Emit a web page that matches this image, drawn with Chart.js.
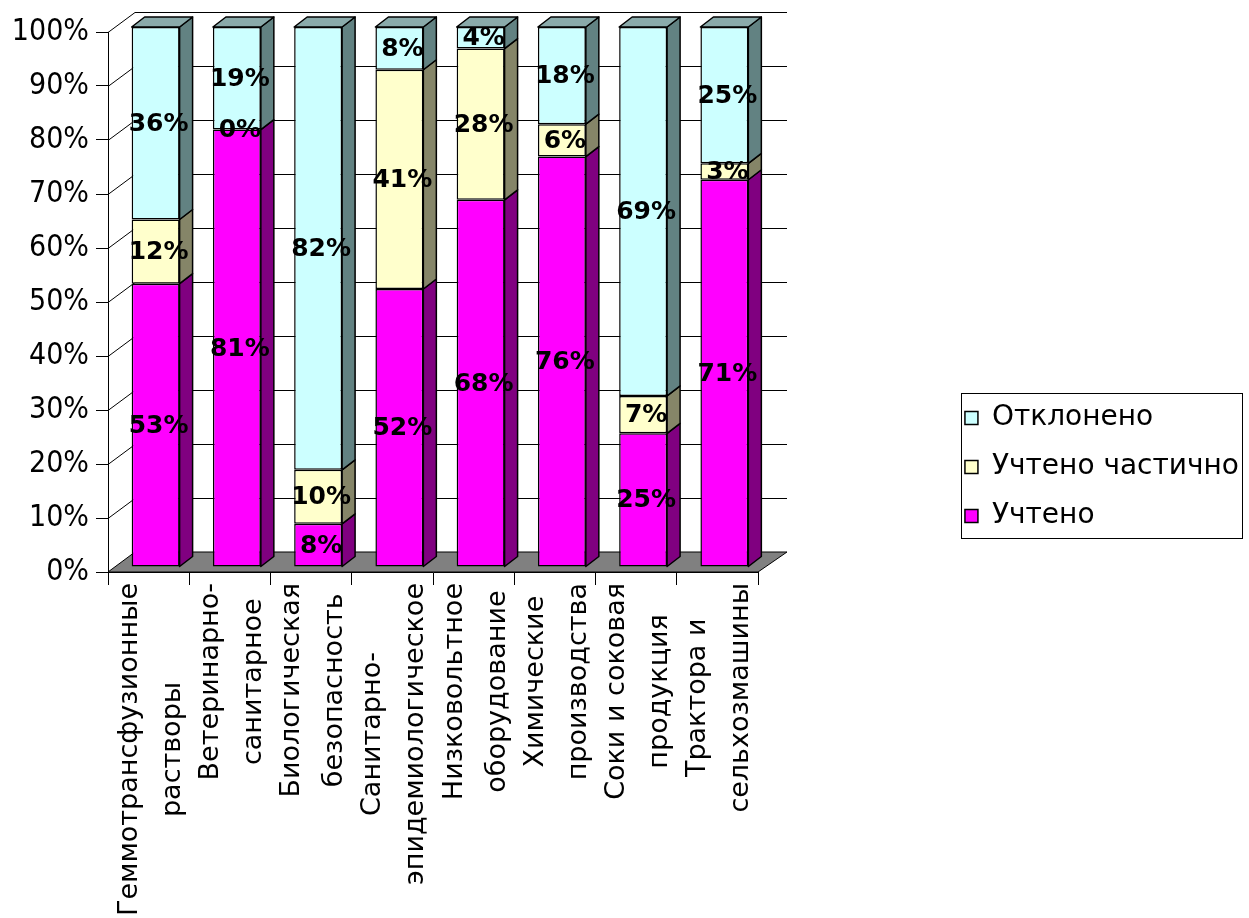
<!DOCTYPE html>
<html>
<head>
<meta charset="utf-8">
<script src="https://cdn.jsdelivr.net/npm/chart.js@4.4.1/dist/chart.umd.min.js"></script>
<style>
  html, body { margin: 0; padding: 0; background: #fff; }
  canvas { display: block; }
</style>
</head>
<body>
<canvas id="chart" width="1249" height="918"></canvas>
<script>
// Categories (each label is split into two lines)
const categories = [
  ['Геммотрансфузионные', 'растворы'],
  ['Ветеринарно-', 'санитарное'],
  ['Биологическая', 'безопасность'],
  ['Санитарно-', 'эпидемиологическое'],
  ['Низковольтное', 'оборудование'],
  ['Химические', 'производства'],
  ['Соки и соковая', 'продукция'],
  ['Трактора и', 'сельхозмашины']
];

// Shares per category, in percent
const accepted = [53, 81, 8, 52, 68, 76, 25, 71];   // Учтено
const partial  = [12, 0, 10, 41, 28, 6, 7, 3];      // Учтено частично
const rejected = [36, 19, 82, 8, 4, 18, 69, 25];    // Отклонено

const seriesNames = ['Учтено', 'Учтено частично', 'Отклонено'];
const yTickValues = [0, 10, 20, 30, 40, 50, 60, 70, 80, 90, 100];

// Face colours: front, right side, top
const palette = [
  { front: '#FF00FF', side: '#800080', top: '#B000B0' },
  { front: '#FFFFCC', side: '#858568', top: '#C4C4A4' },
  { front: '#CCFFFF', side: '#628282', top: '#8AAAAA' }
];

// 100 % stacking: each column is scaled to its own total
const totals = accepted.map((v, i) => v + partial[i] + rejected[i]);
const toShare = arr => arr.map((v, i) => v / totals[i] * 100);
const rawSeries = [accepted, partial, rejected];

// Pseudo-3D geometry (pixels)
const WALL = { x: 27, y: -20 };      // depth of the floor / back wall
const BAR_FRONT = { x: 7, y: -5 };   // bars stand in the middle of the depth
const BAR_DEPTH = { x: 13, y: -10 };

function poly(ctx, pts, fill) {
  ctx.beginPath();
  ctx.moveTo(pts[0][0], pts[0][1]);
  for (let k = 1; k < pts.length; k++) ctx.lineTo(pts[k][0], pts[k][1]);
  ctx.closePath();
  ctx.fillStyle = fill;
  ctx.fill();
  ctx.stroke();
}

const scene3d = {
  id: 'scene3d',
  beforeLayout(chart) {
    // let the legend take the full width of its longest entry
    const lg = chart.legend;
    if (lg && !lg._fullWidthFit) {
      const fit = lg.fit;
      lg.fit = function () {
        fit.call(this);
        const hb = this.legendHitBoxes || [];
        if (hb.length) {
          const colW = Math.max(...hb.map(h => h.width));
          this.width = this.options.labels.padding + colW + 10;
        }
      };
      lg._fullWidthFit = true;
    }
  },
  beforeDraw(chart) {
    const ctx = chart.ctx;
    ctx.save();
    ctx.fillStyle = '#fff';
    ctx.fillRect(0, 0, chart.width, chart.height);
    ctx.restore();
  },
  beforeDatasetsDraw(chart) {
    const { ctx, chartArea: a, scales: { y } } = chart;
    ctx.save();
    ctx.lineWidth = 1;
    ctx.strokeStyle = '#000';
    // floor
    poly(ctx, [
      [a.left, a.bottom], [a.right, a.bottom],
      [a.right + WALL.x + 2, a.bottom + WALL.y], [a.left + WALL.x, a.bottom + WALL.y]
    ], '#808080');
    // side-wall diagonals and back-wall grid lines
    ctx.beginPath();
    y.ticks.forEach(t => {
      if (t.value === 0) return;
      const py = Math.round(y.getPixelForValue(t.value)) + 0.5;
      ctx.moveTo(a.left, py);
      ctx.lineTo(a.left + WALL.x, py + WALL.y);
      ctx.lineTo(a.right + WALL.x + 2, py + WALL.y);
    });
    ctx.stroke();
    ctx.restore();
    // bars are drawn shifted into the depth of the scene
    ctx.save();
    ctx.translate(BAR_FRONT.x, BAR_FRONT.y);
  },
  afterDatasetsDraw(chart) {
    const ctx = chart.ctx;
    const metas = chart.data.datasets.map((_, di) => chart.getDatasetMeta(di));
    ctx.lineWidth = 1.5;
    ctx.strokeStyle = '#000';
    ctx.lineJoin = 'round';
    // right-hand side faces
    metas.forEach((meta, di) => {
      meta.data.forEach(bar => {
        const { x, y, base, width } = bar.getProps(['x', 'y', 'base', 'width'], true);
        const top = Math.min(y, base), bottom = Math.max(y, base);
        if (bottom - top < 0.5) return;
        const r = x + width / 2;
        poly(ctx, [
          [r, top], [r + BAR_DEPTH.x, top + BAR_DEPTH.y],
          [r + BAR_DEPTH.x, bottom + BAR_DEPTH.y], [r, bottom]
        ], palette[di].side);
      });
    });
    // top faces of the highest non-empty segment
    categories.forEach((_, i) => {
      let di = rawSeries.length - 1;
      while (di > 0 && rawSeries[di][i] === 0) di--;
      const { x, y, base, width } = metas[di].data[i].getProps(['x', 'y', 'base', 'width'], true);
      const top = Math.min(y, base);
      const l = x - width / 2, r = x + width / 2;
      poly(ctx, [
        [l, top], [l + BAR_DEPTH.x, top + BAR_DEPTH.y],
        [r + BAR_DEPTH.x, top + BAR_DEPTH.y], [r, top]
      ], palette[di].top);
    });
    // value labels
    ctx.fillStyle = '#000';
    ctx.font = 'bold 25px "DejaVu Sans"';
    ctx.textAlign = 'center';
    ctx.textBaseline = 'middle';
    metas.forEach((meta, di) => {
      meta.data.forEach((bar, i) => {
        const { x, y, base } = bar.getProps(['x', 'y', 'base'], true);
        ctx.fillText(rawSeries[di][i] + '%', x + 3, (y + base) / 2 + 1);
      });
    });
    ctx.restore();
  },
  afterDraw(chart) {
    const ctx = chart.ctx;
    const xs = chart.scales.x;
    // two-line category labels, rotated, lines centred on each other
    ctx.save();
    ctx.fillStyle = '#000';
    ctx.font = '27px "DejaVu Sans"';
    ctx.textAlign = 'center';
    ctx.textBaseline = 'alphabetic';
    chart.data.labels.forEach((lines, i) => {
      const cx = xs.getPixelForValue(i);
      const maxW = Math.max(...lines.map(l => ctx.measureText(l).width));
      const cy = xs.top + 11 + maxW / 2;
      lines.forEach((line, k) => {
        ctx.save();
        ctx.translate(cx - 12 + k * 43, cy);
        ctx.rotate(-Math.PI / 2);
        ctx.fillText(line, 0, 0);
        ctx.restore();
      });
    });
    ctx.restore();
    // frame around the legend
    const lg = chart.legend;
    if (lg && lg.legendHitBoxes && lg.legendHitBoxes.length) {
      const hb = lg.legendHitBoxes;
      const left = Math.min(...hb.map(h => h.left)) - 4;
      const right = Math.max(...hb.map(h => h.left + h.width)) + 3;
      const top = Math.min(...hb.map(h => h.top)) + hb[0].height / 2 - 25;
      const bottom = Math.max(...hb.map(h => h.top)) + hb[0].height / 2 + 22;
      ctx.save();
      ctx.strokeStyle = '#000';
      ctx.lineWidth = 1;
      ctx.strokeRect(Math.round(left) + 0.5, Math.round(top) + 0.5, Math.round(right - left), Math.round(bottom - top));
      ctx.restore();
    }
  }
};

const datasets = rawSeries.map((arr, di) => ({
  label: seriesNames[di],
  data: toShare(arr),
  backgroundColor: palette[di].front,
  borderColor: '#000',
  borderWidth: 1.5,
  borderSkipped: false,
  barPercentage: 0.59,
  categoryPercentage: 1,
  clip: false
}));

new Chart(document.getElementById('chart'), {
  type: 'bar',
  data: { labels: categories, datasets },
  options: {
    responsive: false,
    animation: false,
    devicePixelRatio: 1,
    layout: { padding: { top: 32, left: 0, right: 0, bottom: 16 } },
    plugins: {
      tooltip: { enabled: false },
      legend: {
        position: 'right',
        reverse: true,
        labels: {
          color: '#000',
          font: { family: '"DejaVu Sans"', size: 28 },
          boxWidth: 13,
          boxHeight: 13,
          padding: 21
        }
      }
    },
    scales: {
      x: {
        stacked: true,
        grid: { display: true, drawOnChartArea: false, drawTicks: true, tickLength: 13, color: '#000', offset: true },
        border: { display: true, color: '#000', width: 1 },
        ticks: { display: false },
        afterFit: s => { s.height = 330; }
      },
      y: {
        stacked: true,
        min: 0,
        max: 100,
        afterBuildTicks: s => { s.ticks = yTickValues.map(v => ({ value: v })); },
        grid: { display: true, drawOnChartArea: false, drawTicks: true, tickLength: 12, color: '#000' },
        border: { display: true, color: '#000', width: 1 },
        ticks: {
          color: '#000',
          padding: 7,
          font: { family: '"DejaVu Sans Condensed", "Liberation Sans"', size: 30 },
          callback: v => v + '%'
        },
        afterFit: s => { s.width = 108; }
      },
      gap: {
        type: 'linear',
        position: 'right',
        display: true,
        grid: { display: false },
        border: { display: false },
        ticks: { display: false },
        afterFit: s => { s.width = Math.max(0, s.chart.width - s.chart.legend.width - 758); }
      }
    }
  },
  plugins: [scene3d]
});
</script>
</body>
</html>
